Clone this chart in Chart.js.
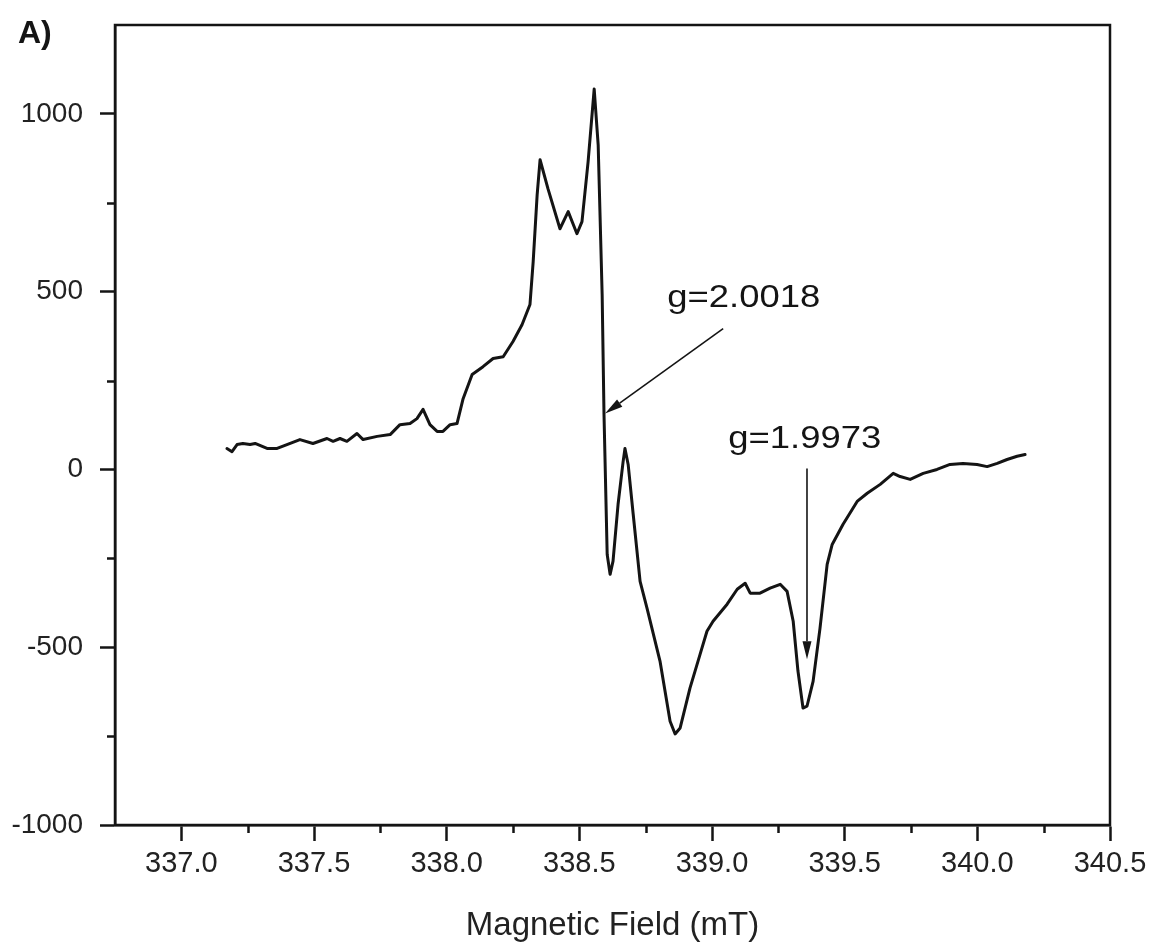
<!DOCTYPE html>
<html>
<head>
<meta charset="utf-8">
<title>EPR spectrum</title>
<script src="https://cdn.jsdelivr.net/npm/chart.js@4.4.1/dist/chart.umd.min.js"></script>
<style>
  html, body { margin: 0; padding: 0; background: #ffffff; }
  #wrap { width: 1160px; height: 951px; }
</style>
</head>
<body>
<div id="wrap"><canvas id="epr" width="1160" height="951"></canvas></div>
<script>
// Magnetic field (mT) of each sampled point of the spectrum
const field = [
  337.172, 337.191, 337.210, 337.232, 337.259, 337.278, 337.323, 337.361, 337.398, 337.447,
  337.496, 337.549, 337.572, 337.598, 337.624, 337.662, 337.685, 337.738, 337.787, 337.824,
  337.862, 337.888, 337.911, 337.937, 337.964, 337.986, 338.013, 338.039, 338.062, 338.096,
  338.137, 338.175, 338.213, 338.250, 338.284, 338.314, 338.326, 338.341, 338.352, 338.382,
  338.427, 338.458, 338.491, 338.510, 338.533, 338.556, 338.571, 338.586, 338.593, 338.605,
  338.616, 338.627, 338.646, 338.665, 338.672, 338.684, 338.703, 338.729, 338.755, 338.804,
  338.842, 338.861, 338.880, 338.917, 338.955, 338.981, 339.004, 339.057, 339.095, 339.125,
  339.144, 339.181, 339.219, 339.257, 339.283, 339.306, 339.324, 339.343, 339.358, 339.381,
  339.407, 339.434, 339.453, 339.494, 339.547, 339.585, 339.634, 339.683, 339.709, 339.747,
  339.796, 339.848, 339.897, 339.946, 339.999, 340.037, 340.075, 340.112, 340.150, 340.180
];

// EPR signal intensity at each field value
const intensity = [
    59,   50,   70,   73,   70,   73,   59,   59,   70,   84,
    73,   87,   79,   87,   79,  101,   84,   93,   98,  126,
   129,  143,  169,  126,  107,  107,  126,  129,  199,  267,
   289,  312,  317,  360,  407,  464,  584,  772,  871,  789,
   677,  725,  663,  697,  865, 1070,  913,  492,  154, -239,
  -295, -258,  -98,   22,   59,   14, -126, -315, -390, -539,
  -708, -744, -727, -615, -520, -455, -427, -379, -337, -320,
  -348, -348, -334, -323, -343, -427, -567, -671, -666, -596,
  -447, -267, -211, -154,  -90,  -67,  -42,  -11,  -20,  -28,
   -11,    0,   14,   17,   14,    8,   17,   28,   37,   42
];

// Axis ticks
const fieldTicks = [337.0, 337.5, 338.0, 338.5, 339.0, 339.5, 340.0, 340.5];
const fieldMinorTicks = [337.25, 337.75, 338.25, 338.75, 339.25, 339.75, 340.25];
const intensityTicks = [-1000, -500, 0, 500, 1000];
const intensityMinorTicks = [-750, -250, 250, 750];

// g-factor markers: label, text anchor, arrow tail and arrow tip (field, intensity)
const gLabels = ['g=2.0018', 'g=1.9973'];
const gTextAt = [[338.831, 458], [339.061, 59]];
const gArrowFrom = [[339.042, 396], [339.358, 3]];
const gArrowTo = [[338.597, 157], [339.358, -534]];

const FONT = '"Liberation Sans", Arial, Helvetica, sans-serif';
const INK = '#141414';

const decorations = {
  id: 'decorations',
  afterDraw(chart) {
    const { ctx, chartArea: a, scales: { x, y } } = chart;
    ctx.save();
    ctx.strokeStyle = INK;
    ctx.fillStyle = INK;
    ctx.lineCap = 'butt';

    // minor ticks, pointing outward
    ctx.lineWidth = 2.5;
    ctx.beginPath();
    fieldMinorTicks.forEach(v => {
      const px = Math.round(x.getPixelForValue(v)) + 0.5;
      ctx.moveTo(px, a.bottom);
      ctx.lineTo(px, a.bottom + 8);
    });
    intensityMinorTicks.forEach(v => {
      const py = Math.round(y.getPixelForValue(v)) + 0.5;
      ctx.moveTo(a.left - 8, py);
      ctx.lineTo(a.left, py);
    });
    ctx.stroke();

    // closed frame around the plot
    ctx.lineWidth = 2.5;
    ctx.strokeRect(a.left, a.top, a.right - a.left, a.bottom - a.top);

    // panel letter
    ctx.font = 'bold 32px ' + FONT;
    ctx.textAlign = 'left';
    ctx.textBaseline = 'alphabetic';
    ctx.fillText('A)', 18, 43);

    // g-factor arrows
    ctx.lineWidth = 1.6;
    gLabels.forEach((label, i) => {
      const x0 = x.getPixelForValue(gArrowFrom[i][0]);
      const y0 = y.getPixelForValue(gArrowFrom[i][1]);
      const x1 = x.getPixelForValue(gArrowTo[i][0]);
      const y1 = y.getPixelForValue(gArrowTo[i][1]);
      const ang = Math.atan2(y1 - y0, x1 - x0);
      const headLen = 18, headHalf = 4.5;
      const bx = x1 - headLen * Math.cos(ang);
      const by = y1 - headLen * Math.sin(ang);
      ctx.beginPath();
      ctx.moveTo(x0, y0);
      ctx.lineTo(bx, by);
      ctx.stroke();
      ctx.beginPath();
      ctx.moveTo(x1, y1);
      ctx.lineTo(bx + headHalf * Math.sin(ang), by - headHalf * Math.cos(ang));
      ctx.lineTo(bx - headHalf * Math.sin(ang), by + headHalf * Math.cos(ang));
      ctx.closePath();
      ctx.fill();

      // label text, slightly widened
      const tx = x.getPixelForValue(gTextAt[i][0]);
      const ty = y.getPixelForValue(gTextAt[i][1]);
      ctx.save();
      ctx.translate(tx, ty);
      ctx.scale(1.14, 1);
      ctx.font = '32px ' + FONT;
      ctx.textAlign = 'left';
      ctx.textBaseline = 'alphabetic';
      ctx.fillText(label, 0, 0);
      ctx.restore();
    });

    ctx.restore();
  }
};

const points = field.map((f, i) => ({ x: f, y: intensity[i] }));

new Chart(document.getElementById('epr'), {
  type: 'scatter',
  data: {
    datasets: [{
      data: points,
      showLine: true,
      borderColor: INK,
      borderWidth: 3,
      borderJoinStyle: 'round',
      borderCapStyle: 'round',
      pointRadius: 0,
      tension: 0,
      fill: false
    }]
  },
  options: {
    responsive: false,
    animation: false,
    events: [],
    layout: { padding: { top: 25, right: 50, left: 0, bottom: 0 } },
    plugins: {
      legend: { display: false },
      tooltip: { enabled: false }
    },
    scales: {
      x: {
        type: 'linear',
        position: 'bottom',
        min: 336.75,
        max: 340.5,
        afterBuildTicks: s => { s.ticks = fieldTicks.map(v => ({ value: v })); },
        afterFit: s => { s.height = 126; s.paddingLeft = 0; s.paddingRight = 0; },
        grid: {
          display: true,
          drawOnChartArea: false,
          drawTicks: true,
          tickLength: 16,
          tickWidth: 2.5,
          tickColor: INK
        },
        border: { display: true, color: INK, width: 2.5 },
        ticks: {
          color: '#222',
          padding: 6,
          maxRotation: 0,
          autoSkip: false,
          font: { family: FONT, size: 29 },
          callback: v => Number(v).toFixed(1)
        },
        title: {
          display: true,
          text: 'Magnetic Field (mT)',
          color: '#222',
          font: { family: FONT, size: 33 },
          padding: { top: 0, bottom: 5 }
        }
      },
      y: {
        type: 'linear',
        position: 'left',
        min: -1000,
        max: 1250,
        afterBuildTicks: s => { s.ticks = intensityTicks.map(v => ({ value: v })); },
        afterFit: s => { s.width = 115; s.paddingTop = 0; s.paddingBottom = 0; },
        grid: {
          display: true,
          drawOnChartArea: false,
          drawTicks: true,
          tickLength: 15,
          tickWidth: 2.5,
          tickColor: INK
        },
        border: { display: true, color: INK, width: 2.5 },
        ticks: {
          color: '#222',
          padding: 17,
          autoSkip: false,
          font: { family: FONT, size: 28 },
          callback: v => String(v)
        }
      }
    }
  },
  plugins: [decorations]
});
</script>
</body>
</html>
